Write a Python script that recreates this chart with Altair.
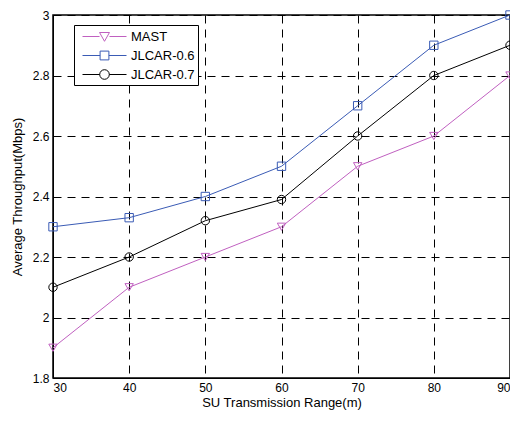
import altair as alt
import pandas as pd

x_vals = [30, 40, 50, 60, 70, 80, 90]
mast = [1.9, 2.1, 2.2, 2.3, 2.5, 2.6, 2.8]
jlcar06 = [2.3, 2.33, 2.4, 2.5, 2.7, 2.9, 3.0]
jlcar07 = [2.1, 2.2, 2.32, 2.39, 2.6, 2.8, 2.9]
series = ["MAST", "JLCAR-0.6", "JLCAR-0.7"]
colors = ["#c060c0", "#3a5bb5", "#000000"]
shapes = ["triangle-down", "square", "circle"]
# legend glyphs: line through the marker
legend_shapes = [
    "M-2.75,0H-0.62M0.62,0H2.75M-0.62,-0.5L0.62,-0.5L0,0.6Z",
    "M-2.75,0H-0.55M0.55,0H2.75M-0.55,-0.55H0.55V0.55H-0.55Z",
    "M-2.75,0H-0.6M0.6,0H2.75M-0.6,0A0.6,0.6,0,1,1,0.6,0A0.6,0.6,0,1,1,-0.6,0Z",
]

rows = []
for name, vals in zip(series, [mast, jlcar06, jlcar07]):
    for xv, yv in zip(x_vals, vals):
        rows.append({"x": xv, "y": yv, "series": name})
df = pd.DataFrame(rows)

font = "Liberation Sans"
xs = alt.X("x:Q", scale=alt.Scale(domain=[30, 90], nice=False),
           axis=alt.Axis(title="SU Transmission Range(m)", values=x_vals, format="d"))
ys = alt.Y("y:Q", scale=alt.Scale(domain=[1.8, 3.0], nice=False, zero=False),
           axis=alt.Axis(title="Average Throughput(Mbps)", values=[1.8, 2.0, 2.2, 2.4, 2.6, 2.8, 3.0], format="~g"))
cscale = alt.Scale(domain=series, range=colors)
col_nolegend = alt.Color("series:N", scale=cscale, legend=None)

base = alt.Chart(df)
lines = base.mark_line(strokeWidth=1).encode(x=xs, y=ys, color=col_nolegend, detail="series:N")
pts = base.mark_point(filled=False, size=70, strokeWidth=1, opacity=1).encode(
    x=xs, y=ys, color=col_nolegend,
    shape=alt.Shape("series:N", scale=alt.Scale(domain=series, range=shapes), legend=None))

leg = alt.Legend(title=None, orient="none", legendX=21, legendY=10,
                 strokeColor="black", fillColor="white", padding=3,
                 labelFont=font, labelFontSize=13, symbolSize=256,
                 symbolOffset=19, labelOffset=18,
                 symbolStrokeWidth=1, rowPadding=3, labelColor="black")
legend_layer = base.transform_filter(alt.datum.x < 0).mark_point(filled=False, size=70, strokeWidth=1, opacity=1).encode(
    x=xs, y=ys,
    color=alt.Color("series:N", scale=cscale, legend=leg),
    shape=alt.Shape("series:N", scale=alt.Scale(domain=series, range=legend_shapes), legend=leg))

chart = alt.layer(lines, pts, legend_layer).resolve_scale(
    color="independent", shape="independent"
).properties(
    width=457, height=363,
    autosize=alt.AutoSizeParams(type="none"),
    padding={"left": 45, "top": 7, "right": 0, "bottom": 35},
).configure_view(stroke="black", strokeWidth=1.5).configure_axis(
    grid=True, gridColor="black", gridDash=[8, 6], gridOpacity=1, gridWidth=1,
    domainColor="black", ticks=False, labelPadding=4,
    labelFont=font, labelFontSize=12, labelColor="black",
    titleFont=font, titleFontSize=13, titleColor="black", titleFontWeight="normal",
).configure_axisY(titlePadding=8).configure_axisX(titlePadding=3)

chart.save("out.html", embed_options={"renderer": "svg", "actions": False})
